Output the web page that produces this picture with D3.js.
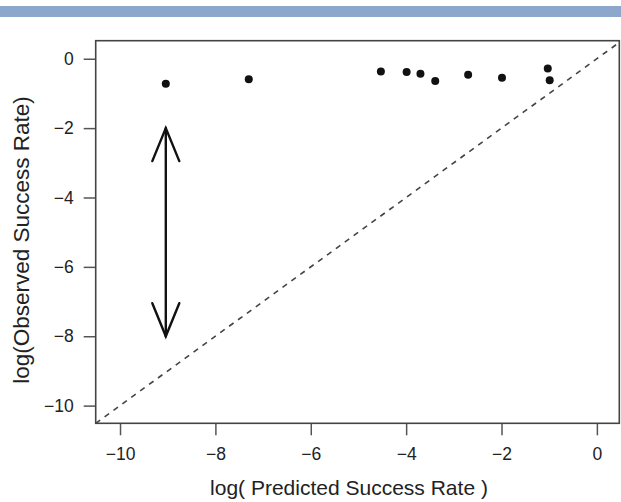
<!DOCTYPE html>
<html>
<head>
<meta charset="utf-8">
<script src="https://cdn.jsdelivr.net/npm/d3@7"></script>
<style>
  html, body { margin: 0; padding: 0; background: #fff; }
  svg { display: block; }
  text { font-family: "Liberation Sans", Arial, Helvetica, sans-serif; fill: #222; }
</style>
</head>
<body>
<div class="container"></div>
<script>
// log predicted vs log observed success rate
const predicted = [-9.04, -7.30, -4.53, -3.99, -3.70, -3.39, -2.70, -1.99, -1.03, -0.99]
const observed = [-0.72, -0.59, -0.37, -0.38, -0.43, -0.64, -0.46, -0.55, -0.28, -0.62]
const xTicks = [-10, -8, -6, -4, -2, 0]
const yTicks = [0, -2, -4, -6, -8, -10]
const arrowX = [-9.04, -9.04]
const arrowY = [-2, -8]

const width = 621
const height = 502
const boxLeft = 95.7, boxRight = 619.3, boxTop = 40.7, boxBottom = 423.3

const xScale = d3.scaleLinear().domain([-10.51, 0.47]).range([boxLeft, boxRight])
const yScale = d3.scaleLinear().domain([-10.51, 0.52]).range([boxBottom, boxTop])

const svg = d3.select(".container")
  .append("svg")
  .attr("width", width)
  .attr("height", height)

// blue band at the top
svg.append("rect")
  .attr("x", 0).attr("y", 6)
  .attr("width", width).attr("height", 11)
  .attr("fill", "#8da6cc")

// y = x reference line
svg.append("line")
  .attr("x1", xScale(-10.51)).attr("y1", yScale(-10.51))
  .attr("x2", xScale(0.47)).attr("y2", yScale(0.47))
  .attr("stroke", "#444")
  .attr("stroke-width", 1.6)
  .attr("stroke-dasharray", "5.5,5.5")

const minus = d => String(d).replace("-", "\u2212")
const xAxis = d3.axisBottom(xScale).tickValues(xTicks).tickSize(12).tickPadding(12).tickFormat(minus)
const yAxis = d3.axisLeft(yScale).tickValues(yTicks).tickSize(12).tickPadding(10).tickFormat(minus)

const gx = svg.append("g")
  .attr("transform", `translate(0, ${boxBottom})`)
  .call(xAxis)
gx.select(".domain").remove()

const gy = svg.append("g")
  .attr("transform", `translate(${boxLeft}, 0)`)
  .call(yAxis)
gy.select(".domain").remove()

svg.selectAll(".tick line").attr("stroke", "#555").attr("stroke-width", 1.5)
svg.selectAll(".tick text")
  .style("font-size", "17.5px")
  .style("fill", "#222")
  .style("font-family", "'Liberation Sans', Arial, sans-serif")

// plot box
svg.append("rect")
  .attr("x", boxLeft).attr("y", boxTop)
  .attr("width", boxRight - boxLeft).attr("height", boxBottom - boxTop)
  .attr("fill", "none")
  .attr("stroke", "#444")
  .attr("stroke-width", 1.6)

// points
svg.selectAll("circle.pt")
  .data(predicted.map((p, i) => [p, observed[i]]))
  .enter()
  .append("circle")
  .attr("class", "pt")
  .attr("cx", d => xScale(d[0]))
  .attr("cy", d => yScale(d[1]))
  .attr("r", 4)
  .attr("fill", "#111")

// double headed arrow
const ax = xScale(arrowX[0])
const ay1 = yScale(arrowY[0])
const ay2 = yScale(arrowY[1])
const arrow = svg.append("g")
  .attr("stroke", "#111")
  .attr("stroke-width", 2.4)
  .attr("fill", "none")
  .attr("stroke-linecap", "round")
arrow.append("line").attr("x1", ax).attr("y1", ay1).attr("x2", ax).attr("y2", ay2)
arrow.append("path").attr("d", `M${ax - 13.5},${ay1 + 33} L${ax},${ay1} L${ax + 13.5},${ay1 + 33}`)
arrow.append("path").attr("d", `M${ax - 13.5},${ay2 - 33} L${ax},${ay2} L${ax + 13.5},${ay2 - 33}`)

// axis titles
svg.append("text")
  .attr("x", 349)
  .attr("y", 495)
  .attr("text-anchor", "middle")
  .style("font-size", "21px")
  .text("log( Predicted Success Rate )")

svg.append("text")
  .attr("transform", `translate(29, 240) rotate(-90)`)
  .attr("text-anchor", "middle")
  .style("font-size", "22.5px")
  .text("log(Observed Success Rate)")
</script>
</body>
</html>
